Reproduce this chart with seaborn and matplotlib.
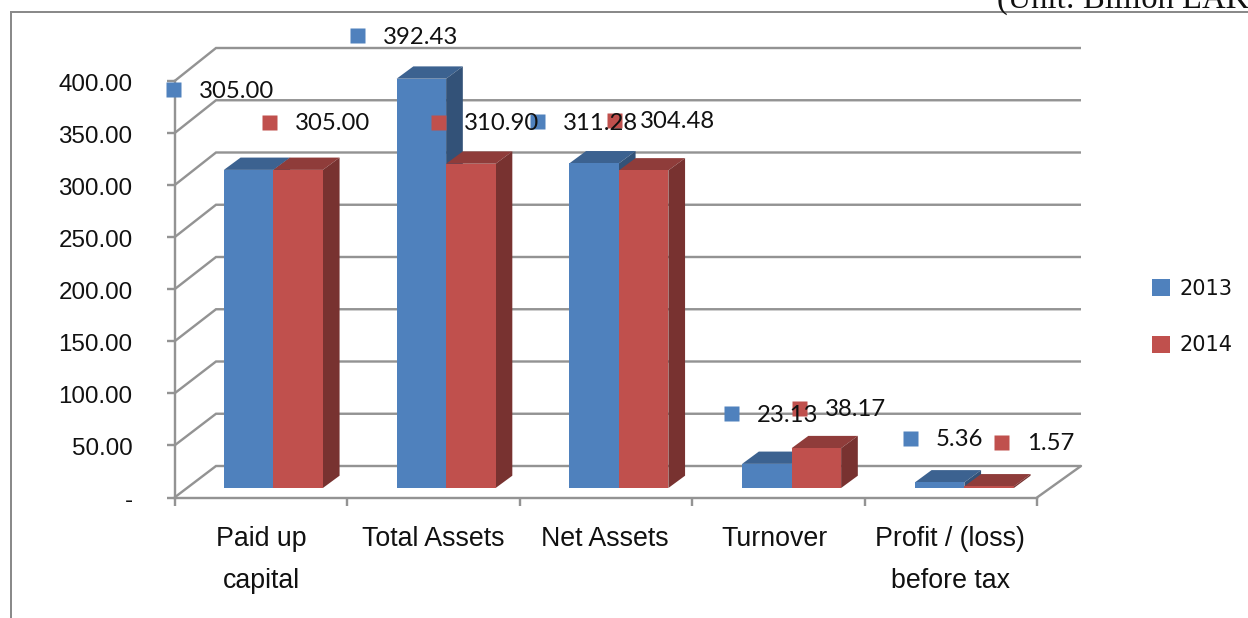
import numpy as np
import pandas as pd
import seaborn as sns
import matplotlib
matplotlib.use("Agg")
import matplotlib.pyplot as plt
from matplotlib.patches import Polygon
from matplotlib.transforms import ScaledTranslation

categories = ["Paid up\ncapital", "Total Assets", "Net Assets", "Turnover", "Profit / (loss)\nbefore tax"]
series_names = ["2013", "2014"]
values_2013 = [305.00, 392.43, 311.28, 23.13, 5.36]
values_2014 = [305.00, 310.90, 304.48, 38.17, 1.57]
y_ticks = [0, 50, 100, 150, 200, 250, 300, 350, 400]
unit_note = "(Unit: Billion LAK)"

# layout (pixels)
W, H = 1248, 618
label_pos_2013 = [(173, 89), (357, 35), (537, 121), (731, 413), (910, 438)]
label_pos_2014 = [(269, 122), (438, 122), (614, 120), (799, 408), (1001, 442)]
category_shift = [1, 0, -0.5, -3.5, -0.5]
BLUE, RED = "#4F81BD", "#C0504D"
BLUE_TOP, RED_TOP = "#3C6290", "#8F3C3A"
BLUE_SIDE, RED_SIDE = "#335278", "#783230"
GRID = "#939393"
px = 72 / 100  # points per pixel

sns.set_theme(style="white")
plt.rcParams["font.family"] = ["Liberation Sans", "DejaVu Sans"]

fig = plt.figure(figsize=(W / 100, H / 100), dpi=100, facecolor="white")


def box(x0, ytop, x1, ybot):
    return [x0 / W, 1 - ybot / H, (x1 - x0) / W, (ybot - ytop) / H]


def pixel_axes(z):
    a = fig.add_axes([0, 0, 1, 1], zorder=z)
    a.set_xlim(0, W)
    a.set_ylim(H, 0)
    a.axis("off")
    a.patch.set_alpha(0)
    return a


# background: chart frame and walls
bg = pixel_axes(0)
bg.plot([11, 11, W], [H, 12, 12], color="#8A8A8A", lw=2 * px, solid_joinstyle="miter")
bg.text(997, 8, unit_note, family="Liberation Serif", fontsize=23.5, color="#111111",
        ha="left", va="baseline", clip_on=False)
FRONT_L, FRONT_R, FRONT_Y = 174.5, 1037, 497.5
BACK_L, BACK_R, BACK_Y = 216, 1081, 466
for v in y_ticks:
    yb = BACK_Y - v * 1.045
    yf = FRONT_Y - v * 1.041
    bg.plot([FRONT_L, BACK_L, BACK_R], [yf, yb, yb], color=GRID, lw=2.4 * px,
            solid_joinstyle="miter", solid_capstyle="butt")
bg.plot([FRONT_R, BACK_R], [FRONT_Y, BACK_Y], color=GRID, lw=2.4 * px)

# front plane: the real axes, ticks and tick labels
front = fig.add_axes(box(FRONT_L, FRONT_Y - 400 * 1.041, FRONT_R, FRONT_Y), zorder=1)
front.patch.set_alpha(0)
front.set_xlim(-0.5, 4.5)
front.set_ylim(0, 400)
for s in ("top", "right"):
    front.spines[s].set_visible(False)
for s in ("left", "bottom"):
    front.spines[s].set_color(GRID)
    front.spines[s].set_linewidth(2.4 * px)
front.set_yticks(y_ticks)
front.set_yticklabels(["-" if v == 0 else f"{v:.2f}" for v in y_ticks])
front.tick_params(axis="y", length=8 * px, width=2.4 * px, color=GRID, pad=34 * px,
                  labelsize=17.4, labelcolor="#111111", left=True)
for t in front.get_yticklabels():
    t.set_fontfamily("Liberation Sans")
    t.set_transform(t.get_transform() + ScaledTranslation(0, -1.5 / 100, fig.dpi_scale_trans))
front.set_xticks(np.arange(-0.5, 5, 1))
front.set_xticklabels([])
front.tick_params(axis="x", which="major", length=8 * px, width=2.4 * px, color=GRID, bottom=True)
front.set_xticks(np.arange(5), minor=True)
front.set_xticklabels(categories, minor=True, fontsize=19.3, color="#111111", linespacing=1.82)
front.tick_params(axis="x", which="minor", length=0, pad=28 * px)
for t, s in zip(front.get_xticklabels(minor=True), category_shift):
    t.set_fontfamily("Liberation Sans")
    t.set_transform(t.get_transform() + ScaledTranslation(s / 100, 0, fig.dpi_scale_trans))

# bars
bars = fig.add_axes(box(187, 488 - 400 * 1.043, 187 + 5 * 172.75, 488), zorder=2)
bars.patch.set_alpha(0)
df = pd.DataFrame({
    "category": categories * 2,
    "year": [series_names[0]] * 5 + [series_names[1]] * 5,
    "value": values_2013 + values_2014,
})
sns.barplot(data=df, x="category", y="value", hue="year", hue_order=series_names,
            palette=[BLUE, RED], width=0.573, gap=0, saturation=1, errorbar=None,
            ax=bars, zorder=3, edgecolor="none", linewidth=0)
bars.set_xlim(-0.5, 4.5)
bars.set_ylim(0, 400)
bars.axis("off")

# depth faces, derived from the drawn bars
dx = 16.7 / 172.75
dy = 12.3 / 1.043
for k, (container, top_c, side_c) in enumerate(zip(bars.containers, (BLUE_TOP, RED_TOP), (BLUE_SIDE, RED_SIDE))):
    for rect in container:
        x0, w, h = rect.get_x(), rect.get_width(), rect.get_height()
        bars.add_patch(Polygon([(x0, h), (x0 + dx, h + dy), (x0 + w + dx, h + dy), (x0 + w, h)],
                               closed=True, facecolor=top_c, edgecolor="none", zorder=1 + k, clip_on=False))
        bars.add_patch(Polygon([(x0 + w, 0), (x0 + w + dx, dy), (x0 + w + dx, h + dy), (x0 + w, h)],
                               closed=True, facecolor=side_c, edgecolor="none", zorder=1 + k, clip_on=False))

handles, labels = bars.get_legend_handles_labels()
if bars.get_legend() is not None:
    bars.get_legend().remove()

# data labels and legend
over = pixel_axes(3)
for vals, pos, color in ((values_2013, label_pos_2013, BLUE), (values_2014, label_pos_2014, RED)):
    for v, (x, y) in zip(vals, pos):
        over.plot([x], [y], marker="s", ms=15 * px, mfc=color, mec="none", ls="none", clip_on=False)
        over.text(x + 26, y, f"{v:.2f}", family="Lato", fontsize=17.2, color="#111111",
                  ha="left", va="center_baseline")

leg = over.legend(handles, labels, loc="center left", bbox_to_anchor=(1152 / W, 1 - 317 / H),
                  bbox_transform=fig.transFigure, frameon=False,
                  labelspacing=1.75, handlelength=0.88, handleheight=0.88, handletextpad=0.42,
                  borderpad=0, borderaxespad=0, prop={"family": "DejaVu Sans", "size": 15})
for t in leg.get_texts():
    t.set_fontfamily("DejaVu Sans")
    t.set_color("#111111")

fig.savefig("out.png", dpi=100)
